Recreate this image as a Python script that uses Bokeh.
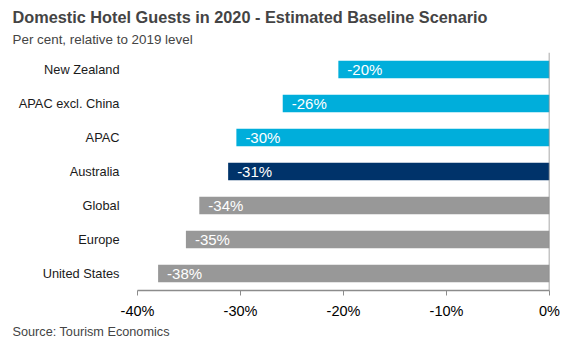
from bokeh.plotting import figure
from bokeh.models import ColumnDataSource, FactorRange, Range1d, FixedTicker, PrintfTickFormatter, LabelSet, Span, Title
from bokeh.core.properties import value
from bokeh.embed import file_html
from bokeh.resources import INLINE

categories = ["United States", "Europe", "Global", "Australia", "APAC", "APAC excl. China", "New Zealand"]
values = [-38.0, -35.3, -34.0, -31.2, -30.4, -25.9, -20.5]
colors = ["#989898", "#989898", "#989898", "#00336A", "#00AEDB", "#00AEDB", "#00AEDB"]
tick_values = [-40, -30, -20, -10, 0]

labels = [f"{round(v)}%" for v in values]
src = ColumnDataSource(dict(cat=categories, val=values, color=colors, lab=labels))

FONT = "Liberation Sans"

p = figure(width=569, height=344, output_backend="svg", toolbar_location=None,
           y_range=FactorRange(*categories), x_range=Range1d(-40, 0),
           min_border_left=137, min_border_right=20, min_border_top=52, min_border_bottom=54)
p.outline_line_color = None
p.xgrid.visible = False
p.ygrid.visible = False
p.background_fill_color = "white"

p.hbar(y="cat", left="val", right=0, height=0.52, color="color", line_color=None, source=src)

p.add_layout(LabelSet(x="val", y="cat", text="lab", source=src, x_offset=9, text_baseline="middle",
                      text_color="white", text_font_size=value("15px"), text_font=value(FONT)))

p.add_layout(Span(location=0, dimension="height", line_color="#8c8c8c", line_width=1.5))

xa = p.xaxis[0]
xa.ticker = FixedTicker(ticks=tick_values)
xa.formatter = PrintfTickFormatter(format="%d%%")
xa.axis_line_color = "#8c8c8c"
xa.axis_line_width = 1.5
xa.major_tick_line_color = "#8c8c8c"
xa.major_tick_out = 5
xa.major_tick_in = 0
xa.minor_tick_line_color = None
xa.major_label_text_font = FONT
xa.major_label_text_font_size = "14.5px"
xa.major_label_text_color = "black"
xa.major_label_standoff = 7

ya = p.yaxis[0]
ya.axis_line_color = None
ya.major_tick_line_color = None
ya.minor_tick_line_color = None
ya.major_label_text_font = FONT
ya.major_label_text_font_size = "12.8px"
ya.major_label_text_color = "#1a1a1a"
ya.major_label_standoff = 12

p.add_layout(Title(text="Per cent, relative to 2019 level", text_font=FONT, text_font_size="13.4px",
                   text_font_style="normal", align="left", offset=-125, standoff=12), "above")
p.add_layout(Title(text="Domestic Hotel Guests in 2020 - Estimated Baseline Scenario", text_font=FONT,
                   text_font_size="16.3px", text_font_style="bold", align="left", offset=-125, standoff=-4), "above")
p.add_layout(Title(text="Source: Tourism Economics", text_font=FONT, text_font_size="12.7px",
                   text_font_style="normal", align="left", offset=-125, standoff=2), "below")

open("out.html", "w").write(file_html(p, INLINE))
